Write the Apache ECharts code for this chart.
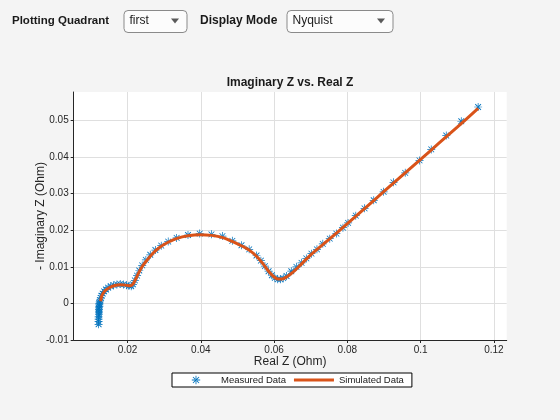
<!DOCTYPE html>
<html>
<head>
<meta charset="utf-8">
<script src="https://cdn.jsdelivr.net/npm/echarts@6/dist/echarts.min.js"></script>
<style>
html,body{margin:0;padding:0;background:#f4f4f4;}
#chart{width:560px;height:420px;}
</style>
</head>
<body>
<div id="chart"></div>
<script>
// ---- data ----
const measuredData = [
  [0.0121,-0.0057],[0.0121,-0.0050],[0.0121,-0.0043],[0.0121,-0.0037],[0.0122,-0.0031],
  [0.0122,-0.0026],[0.0122,-0.0021],[0.0122,-0.0016],[0.0122,-0.0012],[0.0123,-0.0008],
  [0.0123,-0.0004],[0.0123,0.0000],[0.0124,0.0004],[0.0125,0.0009],[0.0127,0.0015],
  [0.0129,0.0021],[0.0132,0.0027],[0.0136,0.0033],[0.0141,0.0038],[0.0147,0.0043],
  [0.0154,0.0047],[0.0162,0.0050],[0.0171,0.0052],[0.0180,0.0053],[0.0189,0.0052],
  [0.0197,0.0050],[0.0204,0.0048],[0.0210,0.0047],[0.0215,0.0052],[0.0220,0.0063],
  [0.0226,0.0076],[0.0232,0.0090],[0.0240,0.0104],[0.0250,0.0119],[0.0262,0.0133],
  [0.0276,0.0146],[0.0292,0.0158],[0.0311,0.0169],[0.0334,0.0179],[0.0365,0.0187],
  [0.0397,0.0191],[0.0429,0.0189],[0.0459,0.0184],[0.0486,0.0171],[0.0511,0.0159],
  [0.0532,0.0148],[0.0552,0.0131],[0.0564,0.0117],[0.0575,0.0102],[0.0585,0.0088],
  [0.0594,0.0077],[0.0602,0.0070],[0.0610,0.0066],[0.0617,0.0066],[0.0625,0.0069],
  [0.0634,0.0075],[0.0647,0.0088],[0.0661,0.0100],[0.0675,0.0111],[0.0688,0.0123],
  [0.0702,0.0136],[0.0717,0.0148],[0.0733,0.0163],[0.0752,0.0177],[0.0770,0.0191],
  [0.0788,0.0207],[0.0802,0.0220],[0.0823,0.0240],[0.0847,0.0260],[0.0872,0.0282],
  [0.0899,0.0305],[0.0926,0.0331],[0.0958,0.0357],[0.0997,0.0391],[0.1029,0.0421],
  [0.1070,0.0459],[0.1111,0.0498],[0.1157,0.0537]
];
const simulatedData = [
  [0.01265,0.0006],[0.0130,0.0022],[0.0138,0.0034],[0.0150,0.0043],[0.0165,0.0049],
  [0.0180,0.0051],[0.0195,0.0050],[0.0207,0.0048],[0.0215,0.0053],[0.0222,0.0066],
  [0.0230,0.0083],[0.0240,0.0101],[0.0253,0.0118],[0.0270,0.0138],[0.0290,0.0155],
  [0.0312,0.0168],[0.0335,0.0178],[0.0365,0.0185],[0.0397,0.0188],[0.0430,0.0186],
  [0.0460,0.0180],[0.0487,0.0169],[0.0512,0.0157],[0.0533,0.0145],[0.0552,0.0129],
  [0.0570,0.0108],[0.0585,0.0088],[0.0598,0.0074],[0.0610,0.0067],[0.0622,0.0067],
  [0.0635,0.0073],[0.0650,0.0084],[0.0670,0.0103],[0.0700,0.0133],[0.0750,0.0175],
  [0.0800,0.0218],[0.0850,0.0262],[0.0900,0.0306],[0.0950,0.0350],[0.1000,0.0394],
  [0.1050,0.0438],[0.1100,0.0482],[0.1157,0.0533]
];
const xTicks = [0.02,0.04,0.06,0.08,0.1,0.12];
const yTicks = [-0.01,0,0.01,0.02,0.03,0.04,0.05];
const xRange = [0.0053,0.1235];
const yRange = [-0.01,0.0578];
const seriesNames = ['Measured Data','Simulated Data'];
const titleText = 'Imaginary Z vs. Real Z';
const xName = 'Real Z (Ohm)';
const yName = '- Imaginary Z (Ohm)';

// ---- style ----
const FONT = '"Liberation Sans", Arial, Helvetica, sans-serif';
const BLUE = '#0072BD';
const ORANGE = '#D95319';
const AX = '#262626';

function starPath(r, t, pad) {
  const d = r * 0.72, e = t * 0.78;
  const f = n => n.toFixed(3);
  let p = 'path://';
  if (pad) p += 'M' + f(-pad[0]) + ',' + f(-pad[1]) + ' L' + f(-pad[0]) + ',' + f(-pad[1]) +
               ' M' + f(pad[0]) + ',' + f(pad[1]) + ' L' + f(pad[0]) + ',' + f(pad[1]) + ' ';
  p += 'M' + f(-r) + ',' + f(-t) + ' L' + f(r) + ',' + f(-t) + ' L' + f(r) + ',' + f(t) + ' L' + f(-r) + ',' + f(t) + ' Z ';
  p += 'M' + f(-t) + ',' + f(-r) + ' L' + f(t) + ',' + f(-r) + ' L' + f(t) + ',' + f(r) + ' L' + f(-t) + ',' + f(r) + ' Z ';
  p += 'M' + f(-d - e) + ',' + f(-d + e) + ' L' + f(d - e) + ',' + f(d + e) + ' L' + f(d + e) + ',' + f(d - e) + ' L' + f(-d + e) + ',' + f(-d - e) + ' Z ';
  p += 'M' + f(-d - e) + ',' + f(d - e) + ' L' + f(d - e) + ',' + f(-d - e) + ' L' + f(d + e) + ',' + f(-d + e) + ' L' + f(-d + e) + ',' + f(d + e) + ' Z';
  return p;
}
const STAR = starPath(1, 0.09, null);
const STAR_LEGEND = starPath(4.2, 0.42, [20, 5]);
const LINE_ICON = 'path://M0,0 L0,0 M0,10 L0,10 M0,3.5 L40,3.5 L40,6.5 L0,6.5 Z';

const fmt = v => String(parseFloat(v.toFixed(3)));

const chart = echarts.init(document.getElementById('chart'), null, {renderer:'canvas'});

const header = [];
function label(x, text, size) {
  header.push({type:'text', left:x, top:15, style:{text:text, font:'bold ' + size + 'px ' + FONT, fill:'#1a1a1a'}});
}
function dropdown(x, w, text) {
  header.push({type:'rect', left:x, top:10, shape:{x:0,y:0,width:w,height:22,r:4},
    style:{fill:'#fcfcfc', stroke:'#8a8a8a', lineWidth:1}});
  header.push({type:'text', left:x+6, top:15, style:{text:text, font:'12px ' + FONT, fill:'#1a1a1a'}});
  const cx = x + w - 11.5;
  header.push({type:'polygon', shape:{points:[[cx-4,18.5],[cx+4,18.5],[cx,23.5]]}, style:{fill:'#5a5a5a'}});
}
label(12, 'Plotting Quadrant', 11.5);
dropdown(123.5, 63, 'first');
label(200, 'Display Mode', 12);
dropdown(286.5, 106, 'Nyquist');

chart.setOption({
  backgroundColor:'#f4f4f4',
  animation:false,
  textStyle:{fontFamily:FONT},
  title:{text:titleText, left:290, textAlign:'center', top:77, padding:0,
    textStyle:{fontSize:12, fontWeight:'bold', color:'#1a1a1a', fontFamily:FONT}},
  grid:{left:73.7, right:53.3, top:92, bottom:80, show:true, backgroundColor:'#ffffff', borderWidth:0, containLabel:false},
  legend:{
    left:172, top:373, orient:'horizontal',
    backgroundColor:'#ffffff', borderColor:'#000', borderWidth:1, borderRadius:0,
    padding:[2,8,2,4], itemGap:8, itemWidth:40, itemHeight:10,
    textStyle:{fontSize:9.5, color:'#1a1a1a', fontFamily:FONT},
    data:[{name:seriesNames[0], icon:STAR_LEGEND, itemStyle:{color:BLUE}},
          {name:seriesNames[1], icon:LINE_ICON, itemStyle:{color:ORANGE}}]
  },
  xAxis:{
    type:'value', min:xRange[0], max:xRange[1],
    name:xName, nameLocation:'middle', nameGap:16, nameMoveOverlap:false,
    nameTextStyle:{fontSize:12, color:'#262626', fontFamily:FONT, verticalAlign:'top'},
    axisLine:{show:true, onZero:false, lineStyle:{color:AX, width:1}},
    axisTick:{show:true, inside:false, length:3, lineStyle:{color:AX}, customValues:xTicks},
    axisLabel:{fontSize:10, color:AX, margin:5, formatter:fmt, customValues:xTicks},
    splitLine:{show:true, lineStyle:{color:'#dfdfdf', width:1}}
  },
  yAxis:{
    type:'value', min:yRange[0], max:yRange[1],
    name:yName, nameLocation:'middle', nameGap:27, nameMoveOverlap:false,
    nameTextStyle:{fontSize:12, color:'#262626', fontFamily:FONT},
    axisLine:{show:true, onZero:false, lineStyle:{color:AX, width:1}},
    axisTick:{show:true, inside:false, length:3, lineStyle:{color:AX}, customValues:yTicks},
    axisLabel:{fontSize:10, color:AX, margin:5, formatter:fmt, customValues:yTicks},
    splitLine:{show:true, lineStyle:{color:'#dfdfdf', width:1}}
  },
  graphic:header,
  series:[
    {name:seriesNames[0], type:'scatter', data:measuredData, symbol:STAR, symbolSize:8,
      itemStyle:{color:BLUE, opacity:1}, z:2},
    {name:seriesNames[1], type:'line', data:simulatedData, smooth:0.3, showSymbol:false, symbol:'none',
      lineStyle:{color:ORANGE, width:3}, itemStyle:{color:ORANGE}, z:3}
  ]
});
</script>
</body>
</html>
